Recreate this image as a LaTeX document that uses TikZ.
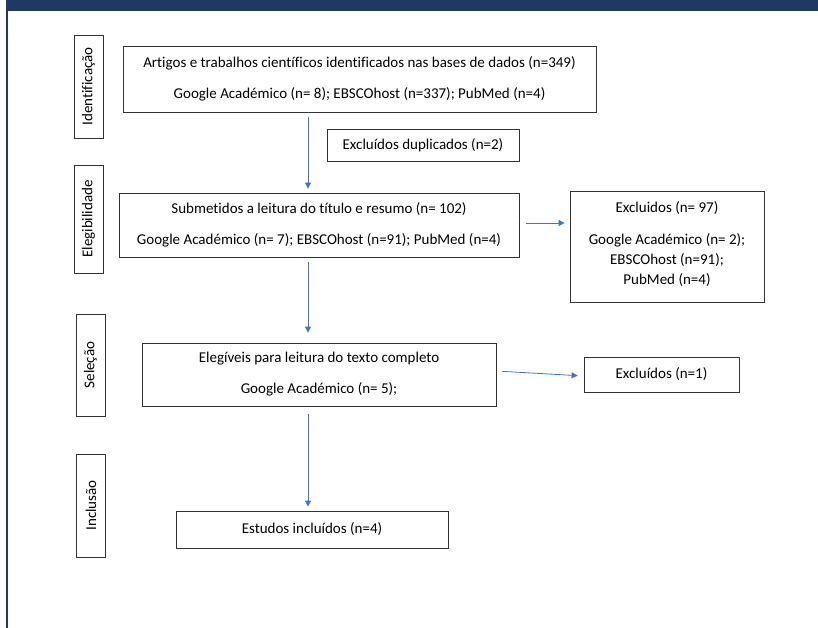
\documentclass[tikz,border=0pt]{standalone}
\usepackage{fontspec}
\setmainfont{Carlito}[Ligatures=NoCommon]
\usetikzlibrary{arrows.meta}
\definecolor{navy}{RGB}{31,56,100}
\definecolor{flowblue}{RGB}{68,114,196}

\begin{document}
\begin{tikzpicture}[x=1pt,y=-1pt,
  box/.style={draw=black!80,line width=0.8pt,inner sep=0pt,align=center,font=\fontsize{15}{31}\selectfont},
  stage/.style={draw=black!80,line width=0.8pt,inner sep=0pt,rotate=90,minimum height=29pt,font=\fontsize{15}{18}\selectfont},
  flow/.style={-{Triangle[width=6pt,length=6pt]},flowblue,line width=0.8pt}]
\useasboundingbox (0,0) rectangle (818,628);
\fill[navy] (6,0) rectangle (818,11);
\fill[navy] (6,0) rectangle (8,628);

\node[stage,minimum width=103pt] at (88.5,86.5) (ident) {Identificação};
\node[stage,minimum width=108pt] at (88.5,219) (eleg) {Elegibilidade};
\node[stage,minimum width=102pt] at (90.5,365) (selec) {Seleção};
\node[stage,minimum width=103pt] at (91,505.5) (incl) {Inclusão};

\node[box,minimum width=473pt,minimum height=66pt] at (359.5,79) (found) {Artigos e trabalhos científicos identificados nas bases de dados (n=349)\\Google Académico (n= 8); EBSCOhost (n=337); PubMed (n=4)};
\node[box,minimum width=192pt,minimum height=32pt] at (423,145) (dupl) {Excluídos duplicados (n=2)};
\node[box,minimum width=400pt,minimum height=64pt] at (319,225) (screen) {Submetidos a leitura do título e resumo (n= 102)\\Google Académico (n= 7); EBSCOhost (n=91); PubMed (n=4)};
\node[box,minimum width=194pt,minimum height=111pt,font=\fontsize{15}{20}\selectfont] at (667,246.5) (excla) {Excluidos (n= 97)\\[12pt]Google Académico (n= 2);\\EBSCOhost (n=91);\\PubMed (n=4)\\[-13pt]};
\node[box,minimum width=354pt,minimum height=63pt] at (319,374.5) (full) {Elegíveis para leitura do texto completo\\Google Académico (n= 5);};
\node[box,minimum width=155pt,minimum height=35pt] at (661.5,374.5) (exclb) {Excluídos (n=1)};
\node[box,minimum width=272pt,minimum height=37pt] at (312,529.5) (final) {Estudos incluídos (n=4)};

\coordinate (axis) at (308,0);
\draw[flow,shorten <=5pt,shorten >=4pt] (found.south -| axis) -- (screen.north -| axis);
\draw[flow,shorten <=5pt,shorten >=10pt] (screen.south -| axis) -- (full.north -| axis);
\draw[flow,shorten <=8pt,shorten >=4pt] (full.south -| axis) -- (final.north -| axis);
\draw[flow,shorten <=7pt,shorten >=5pt] ([yshift=2pt]screen.east) -- ([yshift=2pt]screen.east -| excla.west);
\draw[flow,shorten <=6pt,shorten >=6pt] ([yshift=3.5pt]full.east) -- ([yshift=-1.5pt]exclb.west);
\end{tikzpicture}
\end{document}
